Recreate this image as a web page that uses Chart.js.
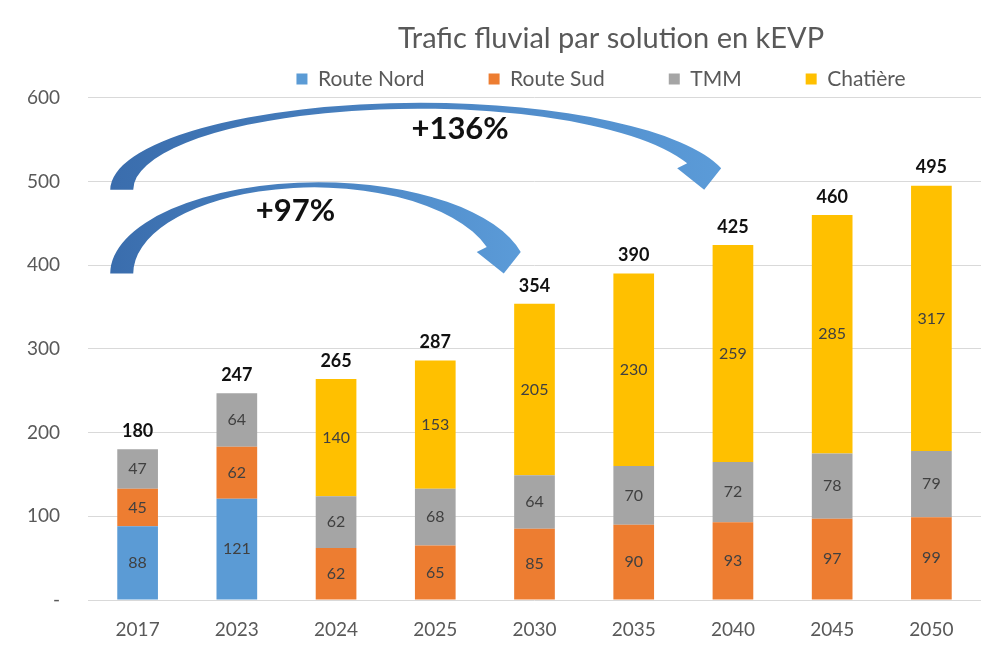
<!DOCTYPE html>
<html lang="fr">
<head>
<meta charset="utf-8">
<title>Trafic fluvial par solution en kEVP</title>
<script src="https://cdn.jsdelivr.net/npm/chart.js@4.4.1/dist/chart.umd.min.js"></script>
<style>
    html, body { margin: 0; padding: 0; background: #ffffff; }
    canvas { display: block; }
</style>
</head>
<body>
<canvas id="grafica" width="989" height="646"></canvas>
<script>
// données (kEVP)
const annees = ["2017", "2023", "2024", "2025", "2030", "2035", "2040", "2045", "2050"];
const routeNord = [88, 121, null, null, null, null, null, null, null];
const routeSud = [45, 62, 62, 65, 85, 90, 93, 97, 99];
const tmm = [47, 64, 62, 68, 64, 70, 72, 78, 79];
const chatiere = [null, null, 140, 153, 205, 230, 259, 285, 317];
const totaux = [180, 247, 265, 287, 354, 390, 425, 460, 495];
const graduations = [0, 100, 200, 300, 400, 500, 600];

// flèches : rang de catégorie en x, kEVP en y
const fleches = [
    { texte: "+136%", depart: -0.16, pointe: 5.71, niveau: 490, sommetExt: 594, sommetInt: 587, texteRang: 3.25, texteValeur: 563 },
    { texte: "+97%", depart: -0.16, pointe: 3.69, niveau: 390, sommetExt: 499, sommetInt: 493, texteRang: 1.59, texteValeur: 465 },
];

const police = "Lato, 'Open Sans', sans-serif";
const grisTexte = "#595959";
const centreTitre = 611;
const centreLegende = 601;
const ligneLegende = 79;
const ecartLegende = 64;
const taillePoliceLegende = 21;

// étiquettes dans les segments + totaux au-dessus
const etiquettes = {
    id: "etiquettes",
    afterDatasetsDraw(chart) {
        const ctx = chart.ctx;
        ctx.save();
        ctx.textAlign = "center";
        ctx.textBaseline = "middle";
        ctx.font = "16px " + police;
        ctx.fillStyle = "#404040";
        const sommets = [];
        chart.data.datasets.forEach((ds, i) => {
            const meta = chart.getDatasetMeta(i);
            meta.data.forEach((barre, j) => {
                if (ds.data[j] === null) return;
                ctx.fillText(ds.data[j], barre.x, (barre.y + barre.base) / 2);
                if (sommets[j] === undefined || barre.y < sommets[j].y) {
                    sommets[j] = { x: barre.x, y: barre.y };
                }
            });
        });
        ctx.font = "bold 18px " + police;
        ctx.fillStyle = "#111111";
        sommets.forEach((s, j) => {
            ctx.fillText(totaux[j], s.x, s.y - 18);
        });
        ctx.restore();
    }
};

function dessinerFleche(ctx, x, y, f) {
    const x0 = x.getPixelForValue(f.depart);
    const cy = y.getPixelForValue(f.niveau);
    const xt = x.getPixelForValue(f.pointe);
    const yt = cy;
    const aileG = { x: xt - 27, y: yt - 21.5 };
    const aileD = { x: xt + 17, y: yt - 21.5 };
    const encoche = { x: xt - 17, y: yt - 26.5 };

    // bord extérieur
    const g1 = x0 - 11.5;
    const ry1 = cy - y.getPixelForValue(f.sommetExt);
    const s1 = (cy - aileD.y) / ry1;
    const rx1 = (aileD.x - g1) / (1 + Math.sqrt(1 - s1 * s1));
    const t1 = Math.asin(s1);

    // bord intérieur
    const g2 = x0 + 11.5;
    const ry2 = cy - y.getPixelForValue(f.sommetInt);
    const s2 = (cy - encoche.y) / ry2;
    const rx2 = (encoche.x - g2) / (1 + Math.sqrt(1 - s2 * s2));
    const t2 = Math.asin(s2);

    const degrade = ctx.createLinearGradient(g1, 0, aileD.x, 0);
    degrade.addColorStop(0, "#3a6dad");
    degrade.addColorStop(1, "#5b9bd8");

    ctx.beginPath();
    ctx.ellipse(g1 + rx1, cy, rx1, ry1, 0, Math.PI, 2 * Math.PI - t1);
    ctx.lineTo(xt, yt);
    ctx.lineTo(aileG.x, aileG.y);
    ctx.lineTo(encoche.x, encoche.y);
    ctx.ellipse(g2 + rx2, cy, rx2, ry2, 0, 2 * Math.PI - t2, Math.PI, true);
    ctx.closePath();
    ctx.fillStyle = degrade;
    ctx.fill();

    ctx.font = "bold 31px " + police;
    ctx.fillStyle = "#111111";
    ctx.textAlign = "center";
    ctx.textBaseline = "middle";
    ctx.fillText(f.texte, x.getPixelForValue(f.texteRang), y.getPixelForValue(f.texteValeur));
}

const flechesPlugin = {
    id: "fleches",
    afterDatasetsDraw(chart) {
        const ctx = chart.ctx;
        ctx.save();
        fleches.forEach(f => dessinerFleche(ctx, chart.scales.x, chart.scales.y, f));
        ctx.restore();
    }
};

// recentre titre et légende comme sur l'original
const recentrer = {
    id: "recentrer",
    afterLayout(chart) {
        const t = chart.titleBlock;
        const dt = centreTitre - (t.left + t.right) / 2;
        t.left += dt;
        t.right += dt;
        const l = chart.legend;
        const dl = centreLegende - (l.left + l.right) / 2;
        l.left += dl;
        l.right += dl;
        l.top = ligneLegende - ecartLegende - taillePoliceLegende / 2;
        l.bottom = chart.chartArea.top;
    }
};

const donnees = {
    labels: annees,
    datasets: [
        { label: "Route Nord", data: routeNord, backgroundColor: "#5b9bd5" },
        { label: "Route Sud", data: routeSud, backgroundColor: "#ed7d31" },
        { label: "TMM", data: tmm, backgroundColor: "#a5a5a5" },
        { label: "Chatière", data: chatiere, backgroundColor: "#ffc000" },
    ],
};

const configuration = {
    type: "bar",
    data: donnees,
    options: {
        responsive: false,
        animation: false,
        layout: { padding: { left: 20, right: 8, top: 0, bottom: 6 } },
        datasets: {
            bar: { categoryPercentage: 1, barPercentage: 0.41, borderWidth: 0 }
        },
        plugins: {
            title: {
                display: true,
                text: "Trafic fluvial par solution en kEVP",
                color: grisTexte,
                font: { family: police, size: 29, weight: "normal" },
                padding: { top: 21, bottom: 2 },
            },
            legend: {
                display: true,
                maxHeight: 40,
                labels: {
                    color: grisTexte,
                    font: { family: police, size: taillePoliceLegende },
                    boxWidth: 11,
                    boxHeight: 11,
                    padding: ecartLegende,
                },
            },
            tooltip: { enabled: false },
        },
        scales: {
            x: {
                stacked: true,
                afterFit: axe => { axe.height = 40; },
                grid: { display: false, drawTicks: false },
                border: { display: false },
                ticks: { color: grisTexte, font: { family: police, size: 19 }, padding: 18 },
            },
            y: {
                stacked: true,
                min: 0,
                max: 600,
                afterBuildTicks: axe => { axe.ticks = graduations.map(v => ({ value: v })); },
                afterFit: axe => { axe.width = 68; },
                grid: { color: "#d9d9d9", drawTicks: false },
                border: { display: false },
                ticks: {
                    color: grisTexte,
                    font: { family: police, size: 19 },
                    padding: 28,
                    callback: v => (v === 0 ? "-" : v),
                },
            },
        },
    },
    plugins: [etiquettes, flechesPlugin, recentrer],
};

new Chart(document.getElementById("grafica"), configuration);
</script>
</body>
</html>
